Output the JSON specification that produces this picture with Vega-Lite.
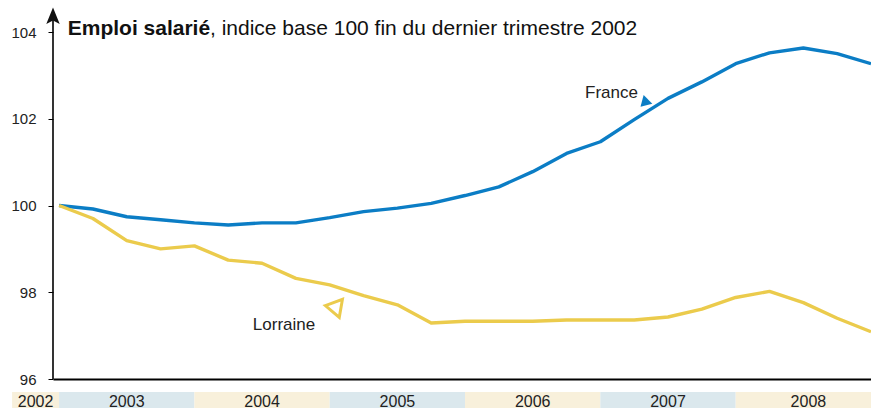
{
  "$schema": "https://vega.github.io/schema/vega-lite/v6.json",
  "width": 818,
  "height": 347,
  "autosize": {"type": "none"},
  "padding": {"left": 53, "top": 32, "right": 0, "bottom": 29},
  "background": "#ffffff",
  "datasets": {
    "emploi": [
      {"trimestre": "2002-T4", "t": 0, "zone": "France", "indice": 100.00},
      {"trimestre": "2003-T1", "t": 1, "zone": "France", "indice": 99.92},
      {"trimestre": "2003-T2", "t": 2, "zone": "France", "indice": 99.74},
      {"trimestre": "2003-T3", "t": 3, "zone": "France", "indice": 99.67},
      {"trimestre": "2003-T4", "t": 4, "zone": "France", "indice": 99.60},
      {"trimestre": "2004-T1", "t": 5, "zone": "France", "indice": 99.55},
      {"trimestre": "2004-T2", "t": 6, "zone": "France", "indice": 99.60},
      {"trimestre": "2004-T3", "t": 7, "zone": "France", "indice": 99.60},
      {"trimestre": "2004-T4", "t": 8, "zone": "France", "indice": 99.72},
      {"trimestre": "2005-T1", "t": 9, "zone": "France", "indice": 99.86},
      {"trimestre": "2005-T2", "t": 10, "zone": "France", "indice": 99.94},
      {"trimestre": "2005-T3", "t": 11, "zone": "France", "indice": 100.05},
      {"trimestre": "2005-T4", "t": 12, "zone": "France", "indice": 100.23},
      {"trimestre": "2006-T1", "t": 13, "zone": "France", "indice": 100.43},
      {"trimestre": "2006-T2", "t": 14, "zone": "France", "indice": 100.78},
      {"trimestre": "2006-T3", "t": 15, "zone": "France", "indice": 101.20},
      {"trimestre": "2006-T4", "t": 16, "zone": "France", "indice": 101.47},
      {"trimestre": "2007-T1", "t": 17, "zone": "France", "indice": 101.98},
      {"trimestre": "2007-T2", "t": 18, "zone": "France", "indice": 102.47},
      {"trimestre": "2007-T3", "t": 19, "zone": "France", "indice": 102.85},
      {"trimestre": "2007-T4", "t": 20, "zone": "France", "indice": 103.27},
      {"trimestre": "2008-T1", "t": 21, "zone": "France", "indice": 103.52},
      {"trimestre": "2008-T2", "t": 22, "zone": "France", "indice": 103.63},
      {"trimestre": "2008-T3", "t": 23, "zone": "France", "indice": 103.50},
      {"trimestre": "2008-T4", "t": 24, "zone": "France", "indice": 103.27},
      {"trimestre": "2002-T4", "t": 0, "zone": "Lorraine", "indice": 100.00},
      {"trimestre": "2003-T1", "t": 1, "zone": "Lorraine", "indice": 99.70},
      {"trimestre": "2003-T2", "t": 2, "zone": "Lorraine", "indice": 99.19},
      {"trimestre": "2003-T3", "t": 3, "zone": "Lorraine", "indice": 99.00},
      {"trimestre": "2003-T4", "t": 4, "zone": "Lorraine", "indice": 99.07},
      {"trimestre": "2004-T1", "t": 5, "zone": "Lorraine", "indice": 98.74},
      {"trimestre": "2004-T2", "t": 6, "zone": "Lorraine", "indice": 98.67},
      {"trimestre": "2004-T3", "t": 7, "zone": "Lorraine", "indice": 98.32},
      {"trimestre": "2004-T4", "t": 8, "zone": "Lorraine", "indice": 98.17},
      {"trimestre": "2005-T1", "t": 9, "zone": "Lorraine", "indice": 97.92},
      {"trimestre": "2005-T2", "t": 10, "zone": "Lorraine", "indice": 97.71},
      {"trimestre": "2005-T3", "t": 11, "zone": "Lorraine", "indice": 97.29},
      {"trimestre": "2005-T4", "t": 12, "zone": "Lorraine", "indice": 97.33},
      {"trimestre": "2006-T1", "t": 13, "zone": "Lorraine", "indice": 97.33},
      {"trimestre": "2006-T2", "t": 14, "zone": "Lorraine", "indice": 97.33},
      {"trimestre": "2006-T3", "t": 15, "zone": "Lorraine", "indice": 97.36},
      {"trimestre": "2006-T4", "t": 16, "zone": "Lorraine", "indice": 97.36},
      {"trimestre": "2007-T1", "t": 17, "zone": "Lorraine", "indice": 97.36},
      {"trimestre": "2007-T2", "t": 18, "zone": "Lorraine", "indice": 97.43},
      {"trimestre": "2007-T3", "t": 19, "zone": "Lorraine", "indice": 97.61},
      {"trimestre": "2007-T4", "t": 20, "zone": "Lorraine", "indice": 97.88},
      {"trimestre": "2008-T1", "t": 21, "zone": "Lorraine", "indice": 98.02},
      {"trimestre": "2008-T2", "t": 22, "zone": "Lorraine", "indice": 97.76},
      {"trimestre": "2008-T3", "t": 23, "zone": "Lorraine", "indice": 97.40},
      {"trimestre": "2008-T4", "t": 24, "zone": "Lorraine", "indice": 97.09}
    ],
    "annees": [
      {"annee": "2002", "debut": -1.39, "fin": 0},
      {"annee": "2003", "debut": 0, "fin": 4},
      {"annee": "2004", "debut": 4, "fin": 8},
      {"annee": "2005", "debut": 8, "fin": 12},
      {"annee": "2006", "debut": 12, "fin": 16},
      {"annee": "2007", "debut": 16, "fin": 20},
      {"annee": "2008", "debut": 20, "fin": 24.3}
    ],
    "un": [{}]
  },
  "layer": [
    {
      "data": {"name": "annees"},
      "mark": {"type": "rect", "clip": false},
      "encoding": {
        "x": {"field": "debut", "type": "quantitative", "title": null},
        "x2": {"field": "fin"},
        "y": {"datum": 95.70, "type": "quantitative", "title": null},
        "y2": {"datum": 95.1},
        "color": {
          "field": "annee", "type": "nominal", "legend": null,
          "scale": {"domain": ["2002", "2003", "2004", "2005", "2006", "2007", "2008"],
                    "range": ["#f8f0db", "#dbe8ed", "#f8f0db", "#dbe8ed", "#f8f0db", "#dbe8ed", "#f8f0db"]}
        }
      }
    },
    {
      "data": {"name": "annees"},
      "transform": [{"calculate": "(datum.debut + datum.fin) / 2", "as": "milieu"}],
      "mark": {"type": "text", "font": "Liberation Sans", "fontSize": 16, "color": "#222222", "baseline": "alphabetic", "align": "center", "clip": false},
      "encoding": {
        "x": {"field": "milieu", "type": "quantitative", "title": null},
        "y": {"datum": 95.355, "type": "quantitative", "title": null},
        "text": {"field": "annee"}
      }
    },
    {
      "data": {"name": "emploi"},
      "mark": {"type": "line", "strokeWidth": 3.4, "strokeJoin": "round", "strokeCap": "butt"},
      "encoding": {
        "x": {"field": "t", "type": "quantitative", "title": null,
              "scale": {"domain": [-0.18, 24], "nice": false, "zero": false}},
        "y": {"field": "indice", "type": "quantitative", "title": null,
              "scale": {"domain": [96, 104], "nice": false, "zero": false},
              "axis": {"values": [96, 98, 100, 102, 104]}},
        "color": {"field": "zone", "type": "nominal", "legend": null,
                  "scale": {"domain": ["France", "Lorraine"], "range": ["#0b7dc5", "#ebcb4c"]}}
      }
    },
    {
      "data": {"name": "un"},
      "mark": {"type": "rule", "color": "#000000", "strokeWidth": 1.6, "clip": false},
      "encoding": {
        "x": {"datum": -0.18, "type": "quantitative", "title": null},
        "y": {"datum": 96, "type": "quantitative", "title": null},
        "y2": {"datum": 104.3}
      }
    },
    {
      "data": {"name": "un"},
      "mark": {"type": "point", "shape": "M0,-1L0.75,0.85L0,0.45L-0.75,0.85Z", "size": 320, "filled": true, "color": "#111111", "opacity": 1, "clip": false},
      "encoding": {
        "x": {"datum": -0.18, "type": "quantitative", "title": null},
        "y": {"datum": 104.36, "type": "quantitative", "title": null}
      }
    },
    {
      "data": {"name": "un"},
      "mark": {"type": "text", "font": "Liberation Sans", "fontSize": 21, "fontWeight": "bold", "color": "#111111", "align": "left", "baseline": "alphabetic", "clip": false},
      "encoding": {
        "x": {"datum": 0.255, "type": "quantitative", "title": null},
        "y": {"datum": 103.94, "type": "quantitative", "title": null},
        "text": {"value": "Emploi salarié"}
      }
    },
    {
      "data": {"name": "un"},
      "mark": {"type": "text", "font": "Liberation Sans", "fontSize": 21, "color": "#111111", "align": "left", "baseline": "alphabetic", "clip": false},
      "encoding": {
        "x": {"datum": 4.46, "type": "quantitative", "title": null},
        "y": {"datum": 103.94, "type": "quantitative", "title": null},
        "text": {"value": ", indice base 100 fin du dernier trimestre 2002"}
      }
    },
    {
      "data": {"name": "un"},
      "mark": {"type": "text", "font": "Liberation Sans", "fontSize": 17, "color": "#222222", "align": "right", "baseline": "middle"},
      "encoding": {
        "x": {"datum": 17.11, "type": "quantitative", "title": null},
        "y": {"datum": 102.59, "type": "quantitative", "title": null},
        "text": {"value": "France"}
      }
    },
    {
      "data": {"name": "un"},
      "mark": {"type": "text", "font": "Liberation Sans", "fontSize": 17, "color": "#222222", "align": "center", "baseline": "middle"},
      "encoding": {
        "x": {"datum": 6.65, "type": "quantitative", "title": null},
        "y": {"datum": 97.245, "type": "quantitative", "title": null},
        "text": {"value": "Lorraine"}
      }
    },
    {
      "data": {"name": "un"},
      "mark": {"type": "point", "shape": "triangle-up", "size": 150, "filled": true, "color": "#0b7dc5", "opacity": 1, "angle": -15},
      "encoding": {
        "x": {"datum": 17.32, "type": "quantitative", "title": null},
        "y": {"datum": 102.43, "type": "quantitative", "title": null}
      }
    },
    {
      "data": {"name": "un"},
      "mark": {"type": "point", "shape": "triangle-left", "size": 330, "filled": false, "color": "#ebcb4c", "strokeWidth": 3, "opacity": 1, "angle": 10},
      "encoding": {
        "x": {"datum": 8.10, "type": "quantitative", "title": null},
        "y": {"datum": 97.66, "type": "quantitative", "title": null}
      }
    }
  ],
  "resolve": {"scale": {"color": "independent"}},
  "config": {
    "view": {"stroke": null},
    "axisX": {"labels": false, "ticks": false, "grid": false, "domainColor": "#000000", "domainWidth": 1.8, "title": null},
    "axisY": {"grid": false, "domain": false, "ticks": true, "tickColor": "#000000", "tickSize": 5, "tickWidth": 1,
              "labelFont": "Liberation Sans", "labelFontSize": 15, "labelColor": "#222222", "labelPadding": 12, "title": null}
  }
}
